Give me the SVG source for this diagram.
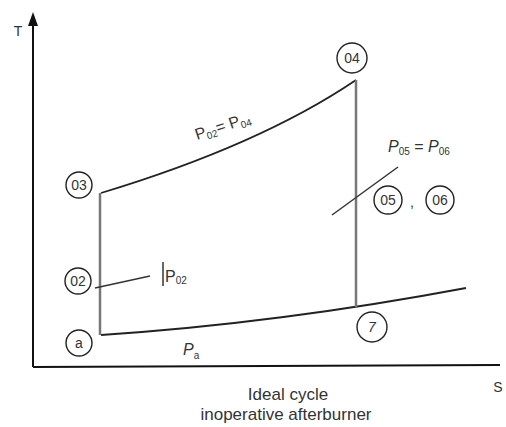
<svg xmlns="http://www.w3.org/2000/svg" width="506" height="427" viewBox="0 0 506 427">
<style>
.ax{stroke:#111;stroke-width:2;fill:none}
.cv{stroke:#222;stroke-width:1.8;fill:none}
.vl{stroke:#777;stroke-width:2.5;fill:none}
.ln{stroke:#333;stroke-width:1.5;fill:none}
.st{fill:#fff;stroke:#222;stroke-width:1.4}
.t{font-family:"Liberation Sans",Arial,sans-serif;fill:#333}
.c{font-size:14px;text-anchor:middle}
.p{font-size:16px;font-style:italic}
.s{font-size:10px}
</style>
<defs>
<marker id="ar" markerWidth="14" markerHeight="10" refX="2" refY="5" orient="auto" markerUnits="userSpaceOnUse" viewBox="0 0 14 10">
<path d="M0,0 L14,5 L0,10 Z" fill="#111"/>
</marker>
</defs>
<g id="axes">
<line class="ax" x1="33" y1="367" x2="33" y2="24" marker-end="url(#ar)"/>
<line class="ax" x1="33" y1="367" x2="500" y2="365"/>
<text class="t" x="18" y="36" font-size="14" text-anchor="middle">T</text>
<text class="t" x="498" y="392" font-size="14" text-anchor="middle">S</text>
</g>
<g id="connectors">
<path class="cv" d="M101,193 Q260,145 356,80"/>
<path class="cv" d="M101,335 Q280,323 466,288"/>
<line class="vl" x1="100" y1="193" x2="100" y2="335"/>
<line class="vl" x1="356" y1="80" x2="356" y2="307"/>
<line class="ln" x1="95" y1="288" x2="150" y2="276"/>
<line class="ln" x1="163" y1="262" x2="163" y2="286"/>
<line class="ln" x1="332" y1="215" x2="398" y2="167"/>
</g>
<g id="n03"><circle class="st" cx="79" cy="185" r="13"/><text class="t c" x="79" y="190">03</text></g>
<g id="n02"><circle class="st" cx="78" cy="281" r="13"/><text class="t c" x="78" y="286">02</text></g>
<g id="na"><circle class="st" cx="79" cy="343" r="13"/><text class="t c" x="79" y="348">a</text></g>
<g id="n04"><circle class="st" cx="352" cy="58" r="15"/><text class="t c" x="352" y="63">04</text></g>
<g id="n7"><circle class="st" cx="372" cy="327" r="15"/><text class="t c" x="372" y="332" font-style="italic">7</text></g>
<g id="n05"><circle class="st" cx="388" cy="200" r="14"/><text class="t c" x="388" y="205">05</text></g>
<text class="t" x="412" y="207" font-size="14" text-anchor="middle">,</text>
<g id="n06"><circle class="st" cx="440" cy="200" r="14"/><text class="t c" x="440" y="205">06</text></g>
<g id="labels">
<text class="t" transform="translate(197,140) rotate(-18)" font-size="16">P<tspan class="s" dy="3">02</tspan><tspan dy="-3">= P</tspan><tspan class="s" dy="3">04</tspan></text>
<text class="t" x="165" y="282" font-size="16">P<tspan class="s" dy="2">02</tspan></text>
<text class="t p" x="388" y="152">P<tspan class="s" dy="3" font-style="normal">05</tspan><tspan dy="-3" font-style="normal"> = </tspan>P<tspan class="s" dy="3" font-style="normal">06</tspan></text>
<text class="t p" x="183" y="355">P<tspan class="s" dy="4" font-style="normal">a</tspan></text>
<text class="t" x="288" y="400" font-size="17" text-anchor="middle">Ideal cycle</text>
<text class="t" x="286" y="420" font-size="17" text-anchor="middle">inoperative afterburner</text>
</g>
</svg>
